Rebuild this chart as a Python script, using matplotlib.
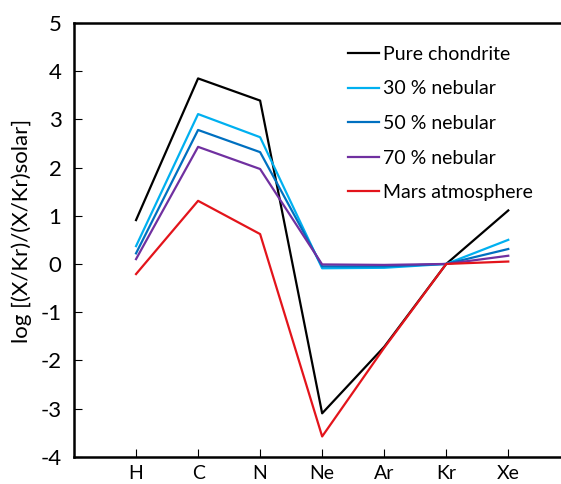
import matplotlib.pyplot as plt

plt.rcParams['font.family'] = ['Lato', 'DejaVu Sans']
plt.rcParams['axes.unicode_minus'] = False

# 元素（横轴类别）
elements = ['H', 'C', 'N', 'Ne', 'Ar', 'Kr', 'Xe']

# 各模型的 log[(X/Kr)/(X/Kr)solar]
pure_chondrite = [0.91, 3.85, 3.39, -3.10, -1.72, 0.0, 1.11]
nebular_30 = [0.37, 3.11, 2.63, -0.09, -0.08, 0.0, 0.50]
nebular_50 = [0.22, 2.78, 2.32, -0.05, -0.05, 0.0, 0.31]
nebular_70 = [0.10, 2.43, 1.97, -0.01, -0.02, 0.0, 0.17]
mars_atm = [-0.21, 1.31, 0.62, -3.58, -1.74, 0.0, 0.05]

series = [
    ('Pure chondrite', pure_chondrite, '#000000'),
    ('30 % nebular', nebular_30, '#00b0f0'),
    ('50 % nebular', nebular_50, '#0070c0'),
    ('70 % nebular', nebular_70, '#7030a0'),
    ('Mars atmosphere', mars_atm, '#e3141b'),
]

fig = plt.figure(figsize=(5.61, 4.84), dpi=100)
ax = fig.add_axes([74 / 561, 27.3 / 484, 1 - 74 / 561, (456.7 - 23) / 484])

xpos = list(range(1, len(elements) + 1))
for name, vals, color in series:
    ax.plot(xpos, vals, color=color, lw=1.6, label=name)

ax.set_xlim(0, 7.85)
ax.set_ylim(-4, 5)
ax.set_xticks(xpos)
ax.set_xticklabels(elements, fontsize=14)
ax.set_yticks(range(-4, 6))
ax.tick_params(axis='y', direction='in', length=6, width=0.8, pad=9, labelsize=16)
ax.tick_params(axis='x', direction='in', length=6, width=0.8, pad=6)

for side in ['left', 'bottom', 'top']:
    ax.spines[side].set_linewidth(1.8)
ax.spines['right'].set_visible(False)

ax.set_ylabel('log [(X/Kr)/(X/Kr)solar]', fontsize=16)
ax.yaxis.set_label_coords(-0.087, 0.52)

ax.legend(loc='upper left', bbox_to_anchor=(348 / 561, 1 - 46 / 484),
          bbox_transform=fig.transFigure, frameon=False, fontsize=14,
          borderpad=0, borderaxespad=0, handlelength=1.6, handletextpad=0.2,
          labelspacing=0.9)

plt.savefig('out.png', dpi=100)
